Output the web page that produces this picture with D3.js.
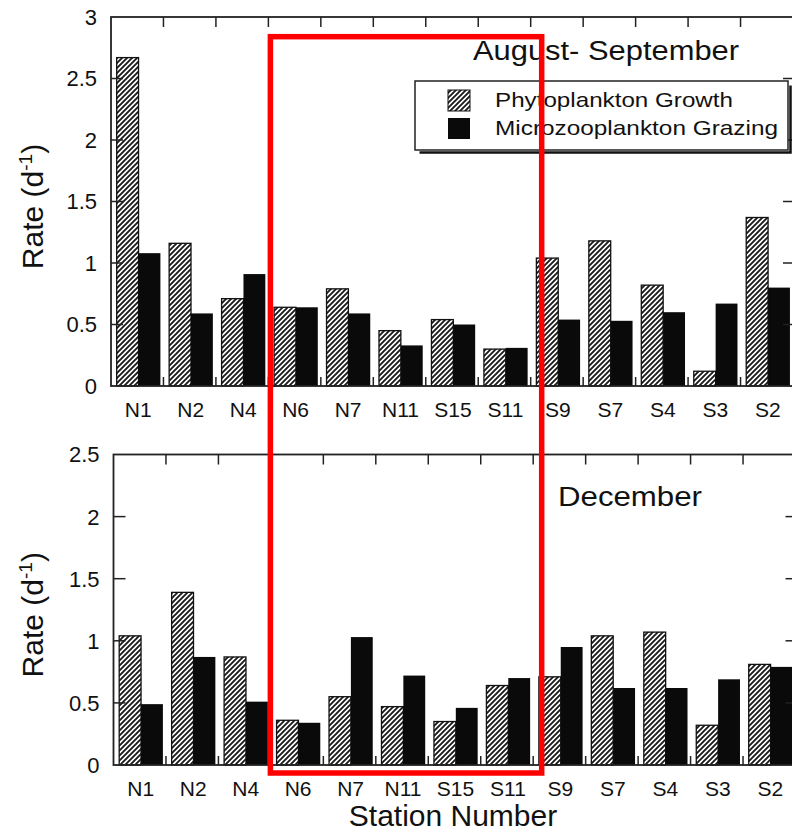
<!DOCTYPE html>
<html>
<head>
<meta charset="utf-8">
<script src="https://cdn.jsdelivr.net/npm/d3@7"></script>
<style>
  body { margin: 0; background: #fff; }
  svg text { font-family: "Liberation Sans", Arial, Helvetica, sans-serif; fill: #111; }
</style>
</head>
<body>
<div id="chart"></div>
<script>
// Station order along the transect
const stations = ["N1", "N2", "N4", "N6", "N7", "N11", "S15", "S11", "S9", "S7", "S4", "S3", "S2"];

// August-September rates (d-1)
const augGrowth  = [2.67, 1.16, 0.71, 0.64, 0.79, 0.45, 0.54, 0.30, 1.04, 1.18, 0.82, 0.12, 1.37];
const augGrazing = [1.08, 0.59, 0.91, 0.64, 0.59, 0.33, 0.50, 0.31, 0.54, 0.53, 0.60, 0.67, 0.80];

// December rates (d-1)
const decGrowth  = [1.04, 1.39, 0.87, 0.36, 0.55, 0.47, 0.35, 0.64, 0.71, 1.04, 1.07, 0.32, 0.81];
const decGrazing = [0.49, 0.87, 0.51, 0.34, 1.03, 0.72, 0.46, 0.70, 0.95, 0.62, 0.62, 0.69, 0.79];

const augTicks = [0, 0.5, 1, 1.5, 2, 2.5, 3];
const decTicks = [0, 0.5, 1, 1.5, 2, 2.5];
const seriesNames = ["Phytoplankton Growth", "Microzooplankton Grazing"];

const width = 792, height = 833;

const svg = d3.select("#chart").append("svg")
  .attr("width", width)
  .attr("height", height);

// Diagonal hatch for the growth bars
svg.append("defs").append("pattern")
  .attr("id", "hatch")
  .attr("patternUnits", "userSpaceOnUse")
  .attr("width", 5)
  .attr("height", 5)
  .call(p => p.append("rect").attr("width", 5).attr("height", 5).attr("fill", "#fff"))
  .append("path")
  .attr("d", "M-1,1 l2,-2 M0,5 l5,-5 M4,6 l2,-2")
  .attr("stroke", "#1a1a1a")
  .attr("stroke-width", 1.9);

function drawPanel(opts) {
  const { growth, grazing, ticks, left, right, top, bottom } = opts;
  const g = svg.append("g");

  const x = d3.scaleBand()
    .domain(stations)
    .range([left, right])
    .padding(0);

  const inner = d3.scaleBand()
    .domain(["growth", "grazing"])
    .range([0, x.bandwidth()])
    .paddingInner(0)
    .paddingOuter(0.2)
    .align(0.65);

  const y = d3.scaleLinear()
    .domain([0, d3.max(ticks)])
    .range([bottom, top]);

  const rows = stations.map((s, i) => ({ station: s, growth: growth[i], grazing: grazing[i] }));

  // Growth bars (hatched)
  g.selectAll("rect.growth")
    .data(rows)
    .join("rect")
    .attr("class", "growth")
    .attr("x", d => x(d.station) + inner("growth"))
    .attr("y", d => y(d.growth))
    .attr("width", inner.bandwidth())
    .attr("height", d => y(0) - y(d.growth))
    .attr("fill", "url(#hatch)")
    .attr("stroke", "#111")
    .attr("stroke-width", 1.3);

  // Grazing bars (solid)
  g.selectAll("rect.grazing")
    .data(rows)
    .join("rect")
    .attr("class", "grazing")
    .attr("x", d => x(d.station) + inner("grazing"))
    .attr("y", d => y(d.grazing))
    .attr("width", inner.bandwidth())
    .attr("height", d => y(0) - y(d.grazing))
    .attr("fill", "#0a0a0a");

  // Frame
  g.append("rect")
    .attr("x", left)
    .attr("y", top)
    .attr("width", right - left)
    .attr("height", bottom - top)
    .attr("fill", "none")
    .attr("stroke", "#222")
    .attr("stroke-width", 1.8);

  // Category boundary ticks on top and bottom edges
  const bounds = stations.slice(1).map(s => x(s));
  g.selectAll("line.ttick")
    .data(bounds)
    .join("line")
    .attr("x1", d => d).attr("x2", d => d)
    .attr("y1", top).attr("y2", top + 10)
    .attr("stroke", "#222").attr("stroke-width", 1.5);
  g.selectAll("line.btick")
    .data(bounds)
    .join("line")
    .attr("x1", d => d).attr("x2", d => d)
    .attr("y1", bottom).attr("y2", bottom - 9)
    .attr("stroke", "#222").attr("stroke-width", 1.5);

  // Inward value ticks on left and right edges
  const inside = ticks.slice(1, -1);
  g.selectAll("line.ltick")
    .data(inside)
    .join("line")
    .attr("x1", left).attr("x2", left + 12)
    .attr("y1", d => y(d)).attr("y2", d => y(d))
    .attr("stroke", "#222").attr("stroke-width", 1.5);
  g.selectAll("line.rtick")
    .data(inside)
    .join("line")
    .attr("x1", right - 10).attr("x2", right)
    .attr("y1", d => y(d)).attr("y2", d => y(d))
    .attr("stroke", "#222").attr("stroke-width", 1.5);

  // Y tick labels
  g.selectAll("text.ylab")
    .data(ticks)
    .join("text")
    .attr("x", left - 14)
    .attr("y", d => y(d))
    .attr("dy", "0.36em")
    .attr("text-anchor", "end")
    .style("font-size", "22px")
    .text(d => d);

  // Station labels
  g.selectAll("text.xlab")
    .data(stations)
    .join("text")
    .attr("x", d => x(d) + x.bandwidth() / 2 + 1)
    .attr("y", bottom + 31)
    .attr("text-anchor", "middle")
    .style("font-size", "21px")
    .text(d => d);

  // Y axis title with superscript
  const yt = g.append("text")
    .attr("transform", `translate(43,${(top + bottom) / 2 + 5}) rotate(-90)`)
    .attr("text-anchor", "middle")
    .style("font-size", "30px");
  yt.append("tspan").text("Rate (d");
  yt.append("tspan").attr("dy", -11).style("font-size", "19px").text("-1");
  yt.append("tspan").attr("dy", 11).text(")");

  return { x, y };
}

const topPanel = drawPanel({
  growth: augGrowth, grazing: augGrazing, ticks: augTicks,
  left: 111, right: 793, top: 17, bottom: 386
});

const botPanel = drawPanel({
  growth: decGrowth, grazing: decGrazing, ticks: decTicks,
  left: 113.5, right: 795.5, top: 454.5, bottom: 765
});

// Panel titles (scan is a little stretched horizontally)
svg.append("text")
  .attr("x", 473).attr("y", 60)
  .attr("textLength", 266)
  .attr("lengthAdjust", "spacingAndGlyphs")
  .style("font-size", "27px")
  .text("August- September");

svg.append("text")
  .attr("x", 558).attr("y", 506)
  .attr("textLength", 144)
  .attr("lengthAdjust", "spacingAndGlyphs")
  .style("font-size", "28px")
  .text("December");

// Legend box with drop shadow
const legend = svg.append("g").attr("transform", "translate(415,81)");
legend.append("path")
  .attr("d", "M3,70 H374 V3")
  .attr("fill", "none")
  .attr("stroke", "#111")
  .attr("stroke-width", 2.5)
  .attr("transform", "translate(1.5,1.5)");
legend.append("rect")
  .attr("width", 373).attr("height", 69)
  .attr("fill", "#fff")
  .attr("stroke", "#222")
  .attr("stroke-width", 1.5);

seriesNames.forEach((name, i) => {
  legend.append("rect")
    .attr("x", 33).attr("y", 9 + i * 28)
    .attr("width", 22).attr("height", 21)
    .attr("fill", i === 0 ? "url(#hatch)" : "#0a0a0a")
    .attr("stroke", "#111")
    .attr("stroke-width", i === 0 ? 1 : 0);
  legend.append("text")
    .attr("x", 80).attr("y", 26 + i * 28)
    .attr("textLength", i === 0 ? 238 : 283)
    .attr("lengthAdjust", "spacingAndGlyphs")
    .style("font-size", "21px")
    .text(name);
});

// Shared x axis title
svg.append("text")
  .attr("x", 453).attr("y", 826)
  .attr("text-anchor", "middle")
  .style("font-size", "30px")
  .text("Station Number");

// Red highlight box around stations N6 - S11
svg.append("rect")
  .attr("x", topPanel.x("N6") + 2)
  .attr("y", topPanel.y(2.84))
  .attr("width", topPanel.x("S9") + 11 - (topPanel.x("N6") + 2))
  .attr("height", botPanel.y(0) + 8 - topPanel.y(2.84))
  .attr("fill", "none")
  .attr("stroke", "#ff0000")
  .attr("stroke-width", 5.5);
</script>
</body>
</html>
